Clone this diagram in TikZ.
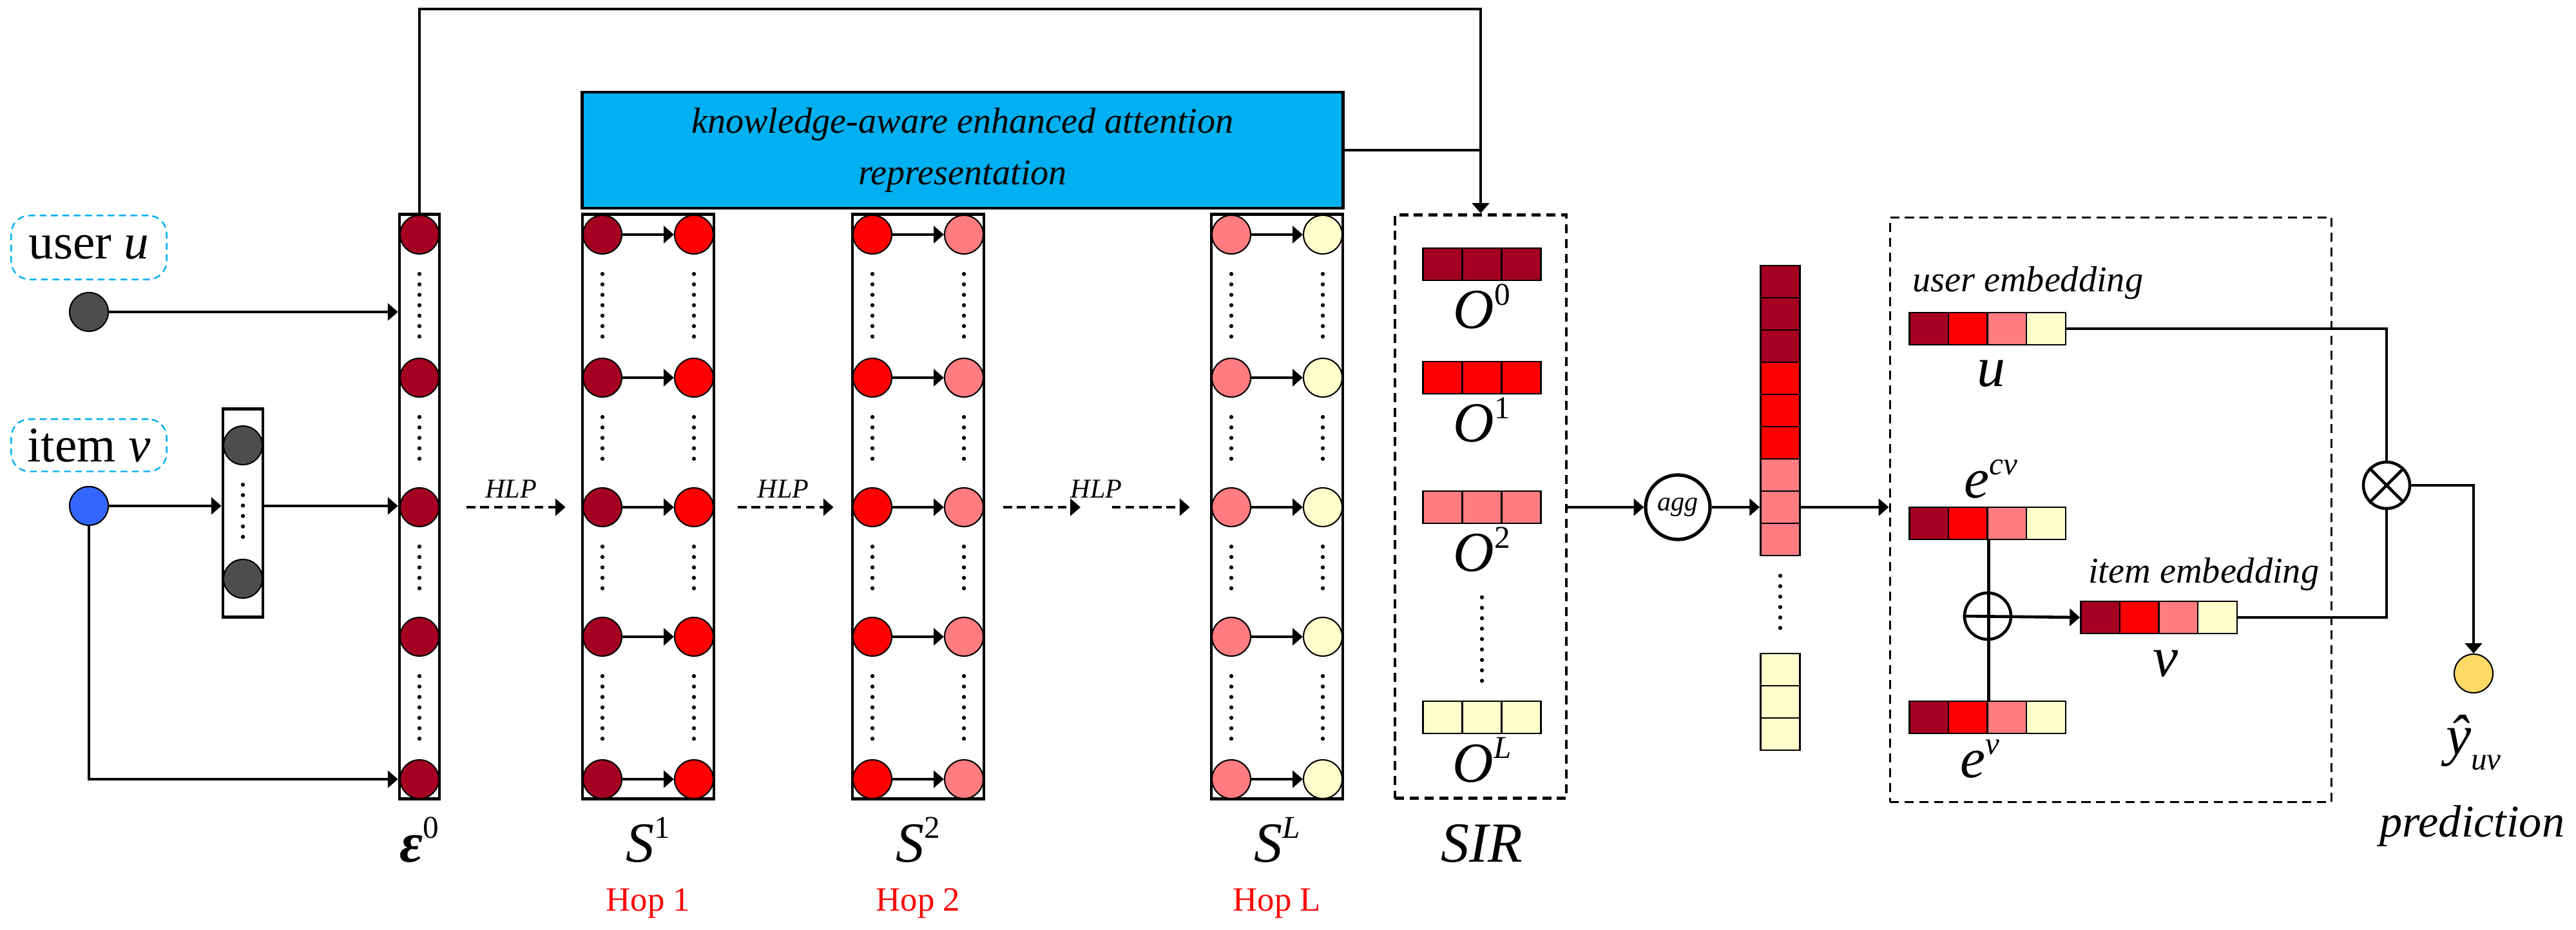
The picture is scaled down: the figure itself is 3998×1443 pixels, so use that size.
\documentclass[tikz,border=0pt]{standalone}
\usepackage{fontspec}
\setmainfont{Liberation Serif}
\usetikzlibrary{arrows.meta, positioning}

\definecolor{hopA}{RGB}{165,0,33}
\definecolor{hopB}{RGB}{255,0,0}
\definecolor{hopC}{RGB}{255,124,128}
\definecolor{hopD}{RGB}{255,255,204}
\definecolor{kbox}{RGB}{0,176,240}
\definecolor{nodegray}{RGB}{77,77,77}
\definecolor{nodeblue}{RGB}{51,102,255}
\definecolor{predgold}{RGB}{255,217,102}

% raised / lowered index
\newcommand\hi[1]{\raisebox{.42em}{\fontsize{14}{14}\selectfont #1}}
\newcommand\lo[1]{\raisebox{-.28em}{\fontsize{14}{14}\selectfont #1}}

\begin{document}
\begin{tikzpicture}[x=0.01cm, y=-0.01cm, line width=1.3pt,
	ball/.style={circle, draw, line width=0.6pt, minimum size=0.6cm, inner sep=0pt},
	colbox/.style={draw, minimum height=9.07cm, inner sep=0pt},
	cell/.style={draw, line width=0.8pt, minimum width=0.61cm, minimum height=0.5cm, inner sep=0pt},
	arr/.style={-{Triangle[length=4.5pt, width=7.5pt]}},
	hlp/.style={arr, dash pattern=on 3.8pt off 2.2pt},
	dotline/.style={line width=1.8pt, line cap=round, dash pattern=on 0pt off 4.6pt, shorten <=0.3cm, shorten >=0.3cm},
	inbox/.style={draw=kbox, dash pattern=on 3pt off 2pt, rounded corners=8pt, line width=0.7pt, minimum width=2.41cm, inner sep=2pt, font=\fontsize{22}{26}\selectfont},
	biglabel/.style={font=\fontsize{25}{30}\selectfont\itshape, anchor=base},
	hlplabel/.style={font=\fontsize{12}{14}\selectfont\itshape},
	hop/.style={text=red, font=\fontsize{15}{18}\selectfont, anchor=base},
	emb/.style={font=\fontsize{16}{19}\selectfont\itshape, anchor=base west, inner sep=0pt},
	op/.style={circle, draw, minimum size=0.72cm, inner sep=0pt},
	sumbox/.style={draw, dash pattern=on 4pt off 2.5pt}
]
	\useasboundingbox (0,0) rectangle (3998,1443);

	% node rows
	\def\rows{364,586,787,988,1209}

	% input
	\node[inbox, minimum height=0.99cm] (userlab) at (138,384) {user \textit{u}};
	\node[inbox, minimum height=0.81cm] (itemlab) at (138,691) {item \textit{v}};
	\node[ball, fill=nodegray] (U) at (138,484) {};
	\node[ball, fill=nodeblue] (I) at (138,785) {};

	% neighbours of the item
	\node[colbox, minimum width=0.62cm, minimum height=3.23cm] (N) at (377,796) {};
	\node[ball, fill=nodegray] (g1) at (377,691) {};
	\node[ball, fill=nodegray] (g2) at (377,898) {};
	\draw[dotline] (g1) -- (g2);

	% initial column
	\node[colbox, minimum width=0.62cm] (E) at (651,786) {};
	\foreach \y [count=\i] in \rows
		\node[ball, fill=hopA] (e\i) at (651,\y) {};
	\foreach \i [evaluate=\i as \j using int(\i+1)] in {1,...,4}
		\draw[dotline] (e\i) -- (e\j);
	\node[biglabel] (epslab) at (651,1337) {\textbf{ε}\hi{\textup{0}}};

	\draw[arr] (U) -- (U -| E.west);
	\draw[arr] (I) -- (I -| N.west);
	\draw[arr] (N.east |- I) -- (I -| E.west);
	\draw[arr] (I) |- (e5 -| E.west);

	% hops
	\foreach \n/\cx/\ca/\cb/\s in {1/1006/hopA/hopB/\textup{1}, 2/1425/hopB/hopC/\textup{2}, L/1982/hopC/hopD/L} {
		\node[colbox, minimum width=2.04cm] (S\n) at (\cx,786) {};
		\foreach \y [count=\i] in \rows {
			\node[ball, fill=\ca] (a\n\i) at ({\cx-71},\y) {};
			\node[ball, fill=\cb] (b\n\i) at ({\cx+71},\y) {};
			\draw[arr] (a\n\i) -- (b\n\i);
		}
		\foreach \i [evaluate=\i as \j using int(\i+1)] in {1,...,4} {
			\draw[dotline] (a\n\i) -- (a\n\j);
			\draw[dotline] (b\n\i) -- (b\n\j);
		}
		\node[biglabel] (Slab\n) at (\cx,1337) {S\hi{\s}};
		\node[hop] (hop\n) at (\cx,1413) {Hop \n};
	}

	% HLP
	\draw[hlp, shorten <=0.4cm, shorten >=0.24cm] (e3 -| E.east) -- (a13 -| S1.west)
		node[hlplabel, midway, above] (hlp1) {HLP};
	\draw[hlp, shorten <=0.35cm, shorten >=0.27cm] (b13 -| S1.east) -- (a23 -| S2.west)
		node[hlplabel, midway, above] (hlp2) {HLP};
	\coordinate (h1) at (1677,787);
	\coordinate (h2) at (1726,787);
	\draw[hlp, shorten <=0.28cm] (b23 -| S2.east) -- (h1);
	\draw[hlp, shorten >=0.31cm] (h2) -- (aL3 -| SL.west);
	\path (h1) -- (h2) node[hlplabel, midway, above] (hlp3) {HLP};

	% attention block
	\node[draw, fill=kbox, minimum width=11.8cm, minimum height=1.8cm, align=center,
		font=\fontsize{16}{23}\selectfont\itshape] (K) at (1494,233) {knowledge-aware enhanced attention\\representation};

	% SIR
	\node[sumbox, minimum width=2.66cm, minimum height=9.05cm] (SIR) at (2298,786) {};
	\foreach \k/\y/\c/\s in {0/410/hopA/\textup{0}, 1/586/hopB/\textup{1}, 2/787/hopC/\textup{2}, L/1113/hopD/L} {
		\foreach \j in {1,2,3}
			\node[cell, fill=\c] (o\k\j) at ({2239+61*(\j-1)},\y) {};
		\node[biglabel] (olab\k) at (2300,{\y+100}) {O\hi{\s}};
	}
	\draw[dotline, shorten <=0.25cm, shorten >=0.3cm] (olab2) -- (oL2);
	\node[biglabel] (sirlab) at (2300,1337) {SIR};

	\coordinate (ktop) at (1500,14);
	\draw[arr] (E.north) |- (ktop) -| (SIR.north);
	\draw (K.east) -- (K.east -| SIR.north);

	% aggregation
	\node[op, minimum size=1cm, line width=1.5pt, font=\fontsize{12}{14}\selectfont\itshape] (A) at (2604,787) {agg};
	\foreach \c [count=\i] in {hopA,hopA,hopA,hopB,hopB,hopB,hopC,hopC,hopC}
		\node[cell, fill=\c] (v\i) at (2763,{437+50*(\i-1)}) {};
	\foreach \i in {1,2,3}
		\node[cell, fill=hopD] (t\i) at (2763,{1039+50*(\i-1)}) {};
	\draw[dotline, shorten <=0.3cm, shorten >=0.38cm] (v9) -- (t1);

	\draw[arr] (SIR.east |- A) -- (A);
	\draw[arr] (A) -- (A -| v8.west);

	% embeddings
	\node[sumbox, line width=1pt, minimum width=6.85cm, minimum height=9.06cm] (EB) at (3276,791) {};
	\foreach \r/\x/\y in {u/2994/510, c/2994/812, d/2994/1113, w/3260/958}
		\foreach \c [count=\j] in {hopA,hopB,hopC,hopD}
			\node[cell, fill=\c] (\r\j) at ({\x+60.5*(\j-1)},\y) {};
	\draw[arr] (v8.east) -- (v8 -| EB.west);

	\node[emb] (uemb) at (2966,453) {user embedding};
	\node[biglabel] (ulab) at (3090,600) {u};
	\node[biglabel] (eclab) at (3090,773) {e\hi{cv}};
	\node[biglabel] (evlab) at (3073,1207) {e\hi{v}};
	\node[emb] (iemb) at (3239,905) {item embedding};
	\node[biglabel] (vlab) at (3361,1050) {v};

	\node[op] (plus) at (3085,956) {};
	\draw (c2.south east) -- (d2.north east);
	\draw[arr] (plus.west) -- (w1.west);

	% prediction
	\node[op] (times) at (3704,753) {};
	\draw (times.north west) -- (times.south east) (times.north east) -- (times.south west);
	\node[ball, fill=predgold] (P) at (3839,1045) {};
	\draw (u4.east) -| (times.north);
	\draw (w4.east) -| (times.south);
	\draw[arr] (times.east) -| (P.north);
	\node[biglabel] (ylab) at (3839,1170) {ŷ\lo{uv}};
	\node[font=\fontsize{20}{24}\selectfont\itshape, anchor=base] (predlab) at (3837,1298) {prediction};
\end{tikzpicture}
\end{document}
